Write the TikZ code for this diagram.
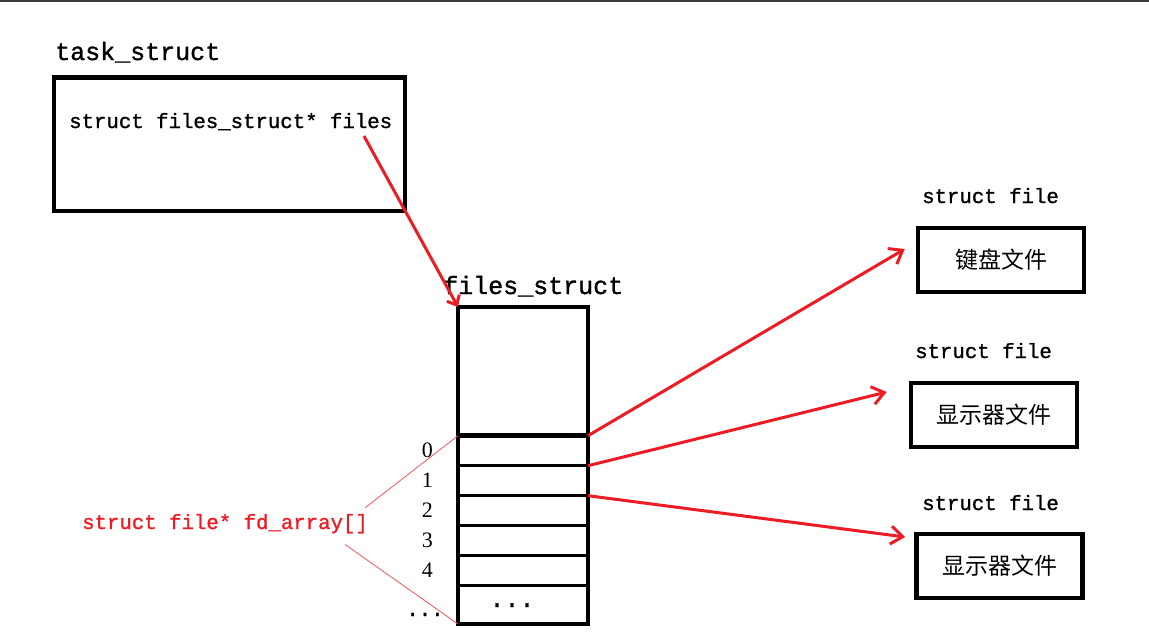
\documentclass[tikz,border=0pt]{standalone}
\usepackage{fontspec}
\usetikzlibrary{arrows.meta,positioning,calc}
\newfontfamily\codefont[FakeBold=1.2]{Liberation Mono}
\newfontfamily\cjkfont{Noto Sans CJK SC}
\newfontfamily\digitfont{Liberation Serif}
\definecolor{pred}{RGB}{237,28,36}
\definecolor{edge}{HTML}{3A3A3A}
\tikzset{
  structbox/.style={rectangle,draw,line width=4.5pt,inner sep=0pt,outer sep=0pt},
  slotbox/.style={rectangle,draw,line width=3.5pt,inner sep=0pt,outer sep=0pt,minimum width=130pt,minimum height=30pt},
  filebox/.style={rectangle,draw,line width=4.5pt,inner sep=0pt,minimum width=166pt,minimum height=64pt,font=\cjkfont\fontsize{23}{26}\selectfont},
  title/.style={inner sep=0pt,anchor=base west,font=\codefont\fontsize{25}{28}\selectfont},
  code/.style={inner sep=0pt,anchor=base west,font=\codefont\fontsize{20.7}{24}\selectfont},
  idx/.style={inner sep=0pt,font=\digitfont\fontsize{22}{24}\selectfont},
  ptr/.style={-{Straight Barb[length=12pt,width=18pt]},line width=3pt,pred},
  guide/.style={pred!75,line width=0.8pt}
}
\begin{document}
\begin{tikzpicture}[x=1pt,y=-1pt]
    \useasboundingbox (0,0) rectangle (1149,640);
    \draw[edge,line width=1.5pt] (0,0.75) -- (1149,0.75);
    % task_struct
    \node[title] (tasklbl) at (55,60) {task\_struct};
    \node[structbox,minimum width=351pt,minimum height=133.5pt] (task) at (229.5,144.25) {};
    \node[code] (field) at (69,128) {struct files\_struct* files};
    \coordinate (pfiles) at (364,136);
    % files_struct with fd_array
    \node[title] (fslbl) at (443,294) {files\_struct};
    \node[structbox,minimum width=130pt,minimum height=128.7pt] (fs) at (523,371.35) {};
    \node[slotbox,below=0pt of fs] (fd0) {};
    \foreach \i [count=\j from 0] in {1,...,4}
      \node[slotbox,below=0pt of fd\j] (fd\i) {};
    \node[slotbox,minimum height=38.3pt,below=0pt of fd4] (fdmore) {};
    \node[title,anchor=base] (dots) at (512,607) {...};
    \foreach \i in {0,...,4}
      \node[idx,left=25pt of fd\i.west] (n\i) {\i};
    \node[code,anchor=base] (ndots) at (425,616) {...};
    \node[code,text=pred] (fdlbl) at (82,529) {struct file* fd\_array[]};
    \draw[guide] ($(fdlbl.north east)+(-3,-6)$) -- (fd0.north west);
    \draw[guide] ($(fdlbl.south east)+(-23,11)$) -- (fdmore.south west);
    % struct file objects
    \node[filebox] (kbd) at (1001,260) {键盘文件};
    \node[filebox] (disp) at (994,415) {显示器文件};
    \node[filebox] (dispb) at (999.5,566) {显示器文件};
    \node[code] (kbdlbl) at (922,203) {struct file};
    \node[code] (displbl) at (915,358) {struct file};
    \node[code] (dispblbl) at (922,510) {struct file};
    % pointers
    \draw[ptr,-{Straight Barb[length=8pt,width=14pt]}] (pfiles) -- (fs.north west);
    \draw[ptr] (fd0.north east) -- ($(kbd.west)+(-11,-11)$);
    \draw[ptr] (fd1.north east) -- ($(disp.west)+(-22,-23)$);
    \draw[ptr] (fd2.north east) -- ($(dispb.west)+(-9,-29)$);
  \end{tikzpicture}
\end{document}
